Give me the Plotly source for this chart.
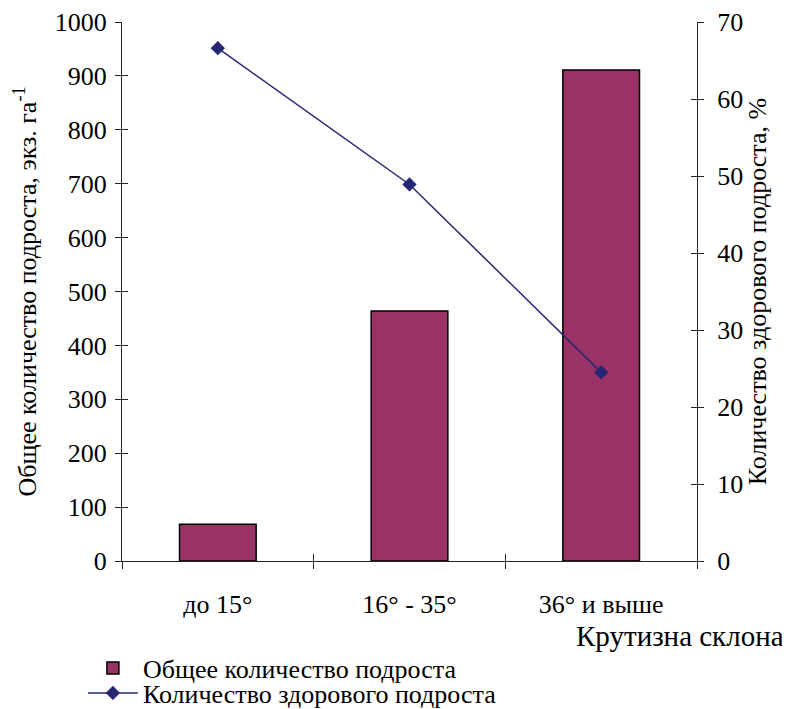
import plotly.graph_objects as go

categories = ["до 15°", "16° - 35°", "36° и выше"]
total_undergrowth = [68, 464, 911]
healthy_share = [66.6, 48.9, 24.5]

bar_name = "Общее количество подроста"
line_name = "Количество здорового подроста"
left_title = "Общее количество подроста, экз. га<sup>-1</sup>"
right_title = "Количество здорового подроста, %"
x_title = "Крутизна склона"

FONT = "Liberation Serif"
BAR_COLOR = "#993366"
LINE_COLOR = "#262673"
AX = "#222222"
FS = 26

fig = go.Figure()
fig.add_trace(go.Bar(
    x=categories, y=total_undergrowth, name=bar_name, width=0.4,
    marker=dict(color=BAR_COLOR, line=dict(color="black", width=1.5)),
    xaxis="x", yaxis="y", legend="legend",
))
fig.add_trace(go.Scatter(
    x=categories, y=healthy_share, name=line_name, mode="lines+markers",
    line=dict(color=LINE_COLOR, width=1.5),
    marker=dict(symbol="diamond", size=11, color=LINE_COLOR),
    xaxis="x", yaxis="y2", legend="legend2",
))
# invisible helper traces so that the overlay axes (inner half of crossing ticks) are drawn
fig.add_trace(go.Scatter(x=categories, y=[None] * 3, xaxis="x2", yaxis="y3",
                         showlegend=False, hoverinfo="skip"))
fig.add_trace(go.Scatter(x=categories, y=[None] * 3, xaxis="x2", yaxis="y4",
                         showlegend=False, hoverinfo="skip"))

tick_font = dict(family=FONT, size=FS, color="black")
common_x = dict(type="category", categoryorder="array", categoryarray=categories,
                range=[-0.5, 2.5], tickson="boundaries", ticklen=7, tickwidth=1.2,
                tickcolor=AX, showgrid=False, zeroline=False)

legend_style = dict(xanchor="left", yanchor="middle", orientation="v",
                    font=dict(family=FONT, size=FS, color="black"),
                    bgcolor="rgba(0,0,0,0)", itemwidth=50)

fig.update_layout(
    width=782, height=701,
    margin=dict(l=114, r=93, t=14, b=148, autoexpand=False),
    paper_bgcolor="white", plot_bgcolor="white",
    font=dict(family=FONT, size=FS, color="black"),
    xaxis=dict(**common_x, ticks="outside", showline=True, linecolor=AX, linewidth=1.3,
               tickfont=tick_font, anchor="y", ticklabelstandoff=20),
    xaxis2=dict(**common_x, ticks="inside", showline=False, showticklabels=False,
                overlaying="x", anchor="y"),
    yaxis=dict(range=[0, 1000], dtick=100, ticks="outside", ticklen=6, tickwidth=1.2,
               tickcolor=AX, showline=True, linecolor=AX, linewidth=1.3, showgrid=False,
               zeroline=False, tickfont=tick_font, ticklabelstandoff=3,
               title=dict(text=left_title, font=dict(family=FONT, size=FS), standoff=10)),
    yaxis2=dict(range=[0, 70], dtick=10, ticks="outside", ticklen=6, tickwidth=1.2,
                tickcolor=AX, showline=True, linecolor=AX, linewidth=1.3, showgrid=False,
                zeroline=False, tickfont=tick_font, side="right", overlaying="y", anchor="x",
                ticklabelstandoff=8,
                title=dict(text=right_title, font=dict(family=FONT, size=FS), standoff=2)),
    yaxis3=dict(range=[0, 1000], dtick=100, ticks="inside", ticklen=6, tickwidth=1.2,
                tickcolor=AX, showline=False, showgrid=False, zeroline=False,
                showticklabels=False, overlaying="y", side="left", anchor="x2"),
    yaxis4=dict(range=[0, 70], dtick=10, ticks="inside", ticklen=6, tickwidth=1.2,
                tickcolor=AX, showline=False, showgrid=False, zeroline=False,
                showticklabels=False, overlaying="y", side="right", anchor="x2"),
    legend=dict(x=-0.068, y=-0.1985, **legend_style),
    legend2=dict(x=-0.068, y=-0.245, **legend_style),
    annotations=[dict(text=x_title, x=1.155, y=-0.139, xref="paper", yref="paper",
                      xanchor="right", yanchor="middle", showarrow=False,
                      font=dict(family=FONT, size=29))],
    showlegend=True,
)

fig.write_html("out.html")
